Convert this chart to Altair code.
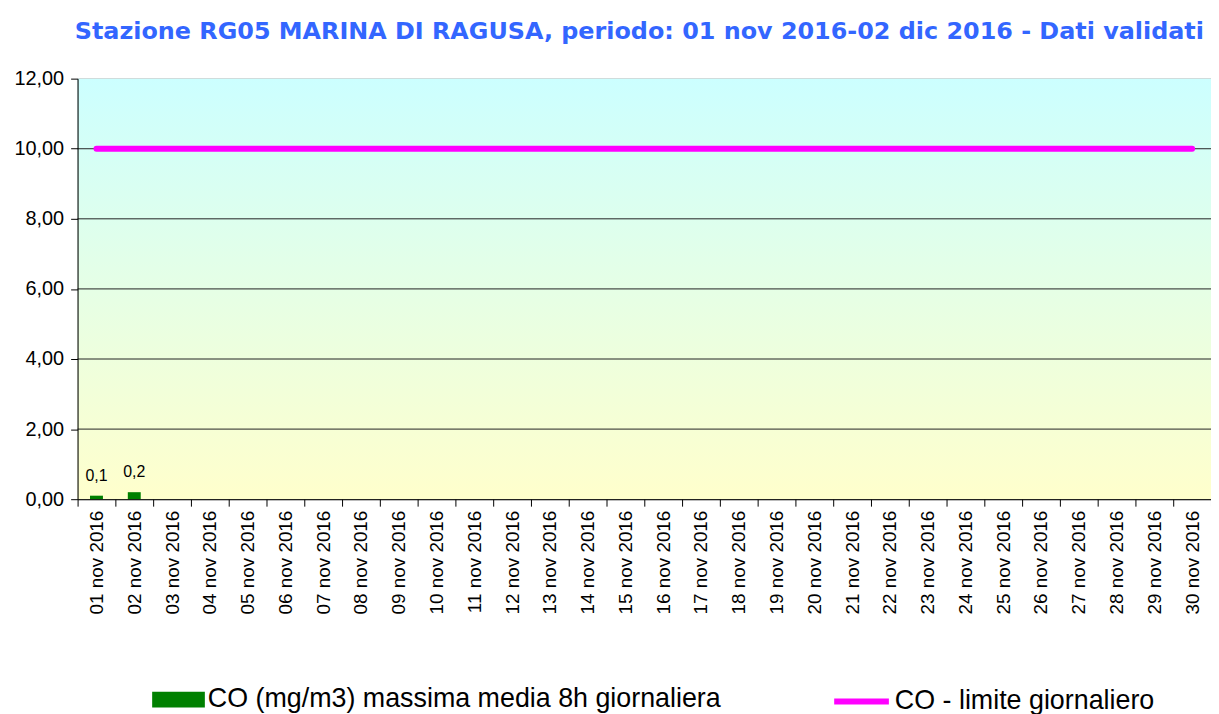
import altair as alt
import pandas as pd

dates = [f"{d:02d} nov 2016" for d in range(1, 31)]
co_values = [0.1, 0.2] + [None] * 28
limit_values = [10.0] * 30
grid_values = [2, 4, 6, 8, 10]

bar_name = "CO (mg/m3) massima media 8h giornaliera"
line_name = "CO - limite giornaliero"

df = pd.DataFrame({"data": dates, "co": co_values, "limite": limit_values})
df["serie_bar"] = bar_name
df["serie_line"] = line_name

title_text = "Stazione RG05 MARINA DI RAGUSA, periodo: 01 nov 2016-02 dic 2016 - Dati validati"

xenc = alt.X("data:N", sort=dates, title=None,
             scale=alt.Scale(paddingInner=0, paddingOuter=0),
             axis=alt.Axis(labelAngle=-90, labelFontSize=19, labelFont="Liberation Sans",
                           labelColor="black", tickBand="extent", tickSize=7,
                           tickColor="black", domainColor="black", labelPadding=4,
                           labelOverlap=False, zindex=1))

yscale = alt.Scale(domain=[0, 12], nice=False, zero=True)

bg = alt.Chart(pd.DataFrame({"a": [0]})).mark_rect(
    color=alt.LinearGradient(gradient="linear",
                             stops=[alt.GradientStop(color="#CCFFFF", offset=0),
                                    alt.GradientStop(color="#FFFFCC", offset=1)],
                             x1=0, x2=0, y1=0, y2=1)
).encode(y=alt.datum(12, scale=yscale), y2=alt.datum(0))

grid = alt.Chart(pd.DataFrame({"g": grid_values})).mark_rule(
    color="#222222", strokeWidth=1
).encode(y=alt.Y("g:Q", scale=yscale))

base = alt.Chart(df)

bars = base.transform_filter("isValid(datum.co)").mark_bar(size=13).encode(
    x=xenc,
    y=alt.Y("co:Q", scale=yscale, title=None,
            axis=alt.Axis(values=[0, 2, 4, 6, 8, 10, 12],
                          labelExpr="replace(format(datum.value, '.2f'), '.', ',')",
                          labelFontSize=20, labelFont="Liberation Sans", labelColor="black",
                          tickSize=7, tickColor="black", domainColor="black",
                          grid=False, labelPadding=7, zindex=1)),
    fill=alt.Fill("serie_bar:N", scale=alt.Scale(domain=[bar_name], range=["#008000"]),
                  legend=alt.Legend(title=None, orient="none", legendX=75, legendY=598,
                                    symbolType="M-1,-0.3H1V0.3H-1Z", symbolSize=2809,
                                    symbolStrokeWidth=0, symbolOpacity=1,
                                    symbolFillColor="#008000", labelLimit=900,
                                    labelFontSize=27, labelFont="Liberation Sans",
                                    labelColor="black", padding=0, labelOffset=3)),
)

labels = base.transform_filter("isValid(datum.co)").transform_calculate(
    lab="replace(format(datum.co, '.1f'), '.', ',')"
).mark_text(baseline="bottom", dy=-12, fontSize=16, font="Liberation Sans", color="black").encode(
    x=alt.X("data:N", sort=dates),
    y=alt.Y("co:Q", scale=yscale),
    text="lab:N",
)

line = base.mark_line(strokeWidth=6, strokeCap="round").encode(
    x=alt.X("data:N", sort=dates),
    y=alt.Y("limite:Q", scale=yscale),
    stroke=alt.Stroke("serie_line:N", scale=alt.Scale(domain=[line_name], range=["#FF00FF"]),
                      legend=alt.Legend(title=None, orient="none", legendX=758, legendY=596,
                                        symbolType="M-1,0H1", symbolSize=3025,
                                        symbolStrokeWidth=6, labelLimit=900,
                                        labelFontSize=27, labelFont="Liberation Sans",
                                        labelColor="black", padding=0, labelOffset=3)),
)

chart = alt.layer(bg, grid, bars, labels, line).properties(
    width=1140, height=423,
    autosize="none",
    padding={"left": 70, "top": 69, "right": 0, "bottom": 214},
    title=alt.TitleParams(title_text, font="DejaVu Sans", fontSize=24, fontWeight="bold",
                          color="#3366FF", anchor="middle", offset=6, dx=-5,
                          baseline="alphabetic"),
).configure_view(stroke="#808080", strokeWidth=1)

chart.save("out.html", embed_options={"renderer": "svg", "actions": False})
